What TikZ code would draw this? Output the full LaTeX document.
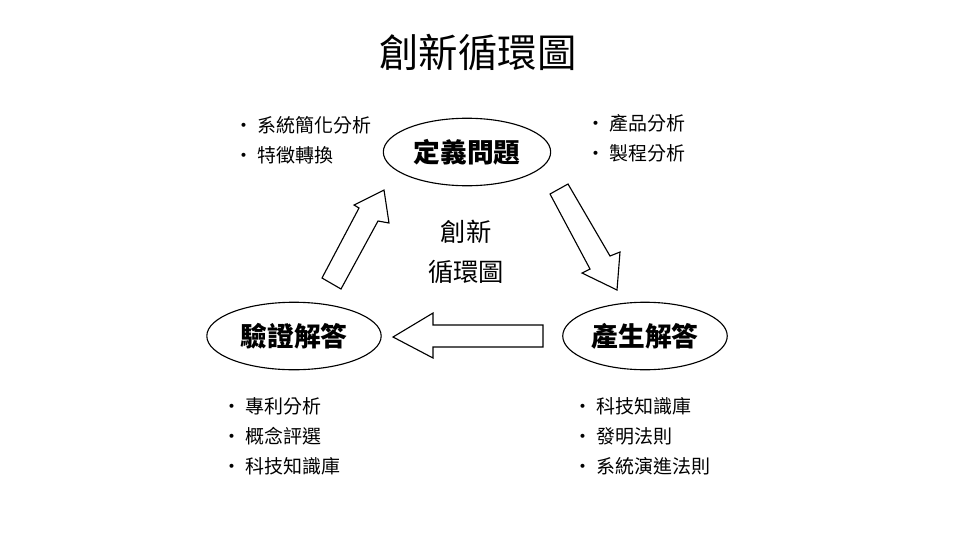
\documentclass[tikz,border=0pt]{standalone}
\usepackage{fontspec}
\setmainfont{Noto Sans CJK TC}
\newfontfamily\cjk{Noto Sans CJK TC}
\usetikzlibrary{positioning,shapes.geometric}

\begin{document}
\begin{tikzpicture}[
  x=0.025cm, y=-0.025cm,
  font=\cjk,
  stage/.style={draw=black, line width=0.8pt, ellipse, minimum width=#1, minimum height=48pt,
    inner sep=0pt, font=\cjk\bfseries\fontsize{19}{22}\selectfont},
  stage/.default=119pt,
  points/.style={align=left, anchor=north west, inner sep=0pt,
    font=\cjk\fontsize{13.5}{21.3}\selectfont},
  blockarrow/.style={draw=black, line width=0.8pt, fill=white, line join=miter}
]
\useasboundingbox (0,0) rectangle (960,540);

\node[font=\cjk\fontsize{28}{32}\selectfont] (title) at (478,52) {創新循環圖};

% The three stages of the cycle.
\node[stage=119pt] (define) at (467,152) {定義問題};
\node[stage=124pt] (verify) at (294,336) {驗證解答};
\node[stage=117pt] (generate) at (645,336) {產生解答};

\node[align=center, font=\cjk\fontsize{18}{28.5}\selectfont] (centre) at (466,252)
  {創新\\循環圖};

% Block arrows between the stages.
\draw[blockarrow] (322,278) -- (359,208) -- (354,205) -- (384,190) -- (389,223)
  -- (378,221) -- (341,289) -- cycle;
\draw[blockarrow] (550,194) -- (568,184) -- (610,256) -- (620,252) -- (617,290)
  -- (582,273) -- (590,269) -- cycle;
\draw[blockarrow] (543,325) -- (433,325) -- (433,313) -- (393,337) -- (433,358)
  -- (433,347) -- (543,347) -- cycle;

% Notes for each stage.
\node[points] (definenotesl) at (234,116) {• 系統簡化分析\\• 特徵轉換};
\node[points] (definenotesr) at (586,114) {• 產品分析\\• 製程分析};
\node[points] (verifynotes) at (222,397) {• 專利分析\\• 概念評選\\• 科技知識庫};
\node[points] (generatenotes) at (573,397) {• 科技知識庫\\• 發明法則\\• 系統演進法則};

\end{tikzpicture}
\end{document}
